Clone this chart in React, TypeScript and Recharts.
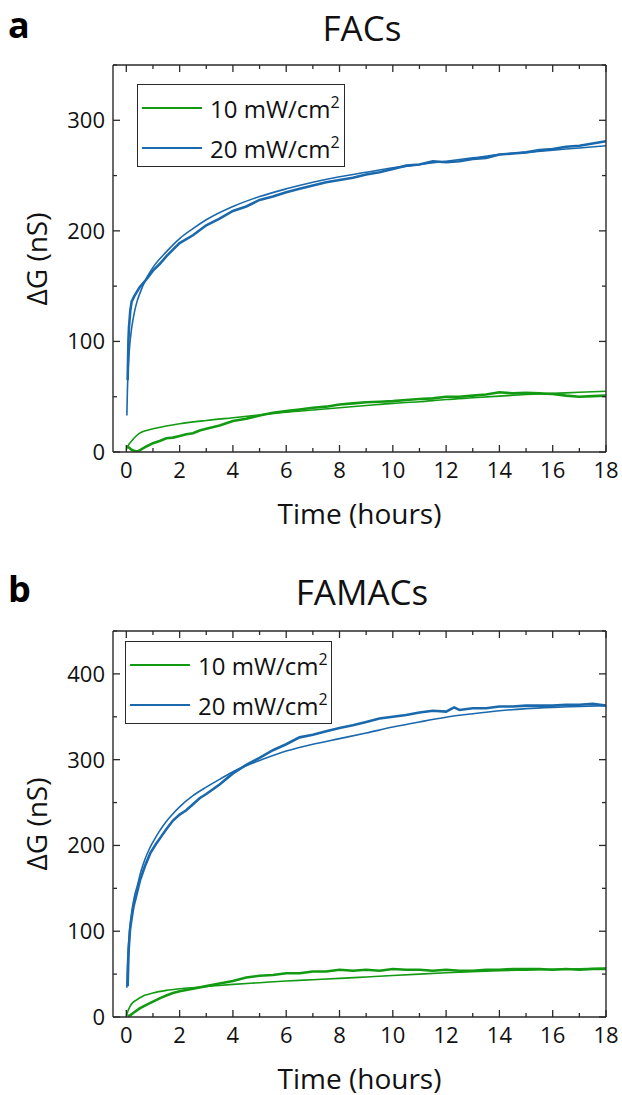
import React from "react";
import { ComposedChart, Line, XAxis, YAxis } from "recharts";

const FONT = "'Open Sans', 'Noto Sans', sans-serif";
const GREEN = "#129a12";
const BLUE = "#1a69ad";
const INK = "#2a2a2a";

const timeTicks = [0, 1, 2, 3, 4, 5, 6, 7, 8, 9, 10, 11, 12, 13, 14, 15, 16, 17, 18];
const facsTicks = [0, 50, 100, 150, 200, 250, 300, 350];
const famacsTicks = [0, 50, 100, 150, 200, 250, 300, 350, 400, 450];
const legendLabels = ["10 mW/cm", "20 mW/cm"];

// [time (h), ΔG (nS)]
const facs10Meas = [
  [0.02, 5], [0.1, 4], [0.2, 2], [0.3, 1], [0.4, 0.5], [0.5, 1.5], [0.75, 5], [1, 8], [1.25, 10],
  [1.5, 12.5], [1.75, 13], [2, 14.5], [2.25, 16], [2.5, 17], [2.75, 19.5], [3, 21], [3.5, 24],
  [4, 28], [4.5, 30], [5, 33], [5.5, 35.5], [6, 37], [6.5, 38.5], [7, 40], [7.5, 41], [8, 43],
  [8.5, 44], [9, 45], [9.5, 45.5], [10, 46], [10.5, 47], [11, 48], [11.5, 48.5], [12, 50],
  [12.5, 50], [13, 51], [13.5, 52], [14, 54], [14.5, 53], [15, 53.5], [15.5, 53], [16, 52.5],
  [16.5, 51], [17, 50], [17.5, 50.5], [18, 51],
];
const facs10Fit = [
  [0, 2], [0.05, 5], [0.1, 7], [0.2, 10], [0.35, 14], [0.5, 17], [0.75, 19.5], [1, 21],
  [1.5, 23.5], [2, 25.5], [3, 28.5], [4, 31], [5, 33.5], [6, 36], [7, 38], [8, 40], [9, 42],
  [10, 44], [11, 45.5], [12, 47.5], [13, 49], [14, 50.5], [15, 52], [16, 53], [17, 54], [18, 55],
];
const facs20Meas = [
  [0.05, 65], [0.08, 102], [0.1, 113], [0.15, 128], [0.2, 136], [0.3, 141], [0.4, 145],
  [0.5, 149], [0.75, 156], [1, 164], [1.25, 170], [1.5, 177], [1.75, 183], [2, 189], [2.5, 196],
  [3, 205], [3.5, 211], [4, 218], [4.5, 222], [5, 228], [5.5, 231], [6, 235], [6.5, 238],
  [7, 241], [7.5, 244], [8, 246], [8.5, 248], [9, 251], [9.5, 253], [10, 256], [10.5, 259],
  [11, 260], [11.5, 263], [12, 262], [12.5, 263], [13, 265], [13.5, 266], [14, 269],
  [14.5, 270], [15, 271], [15.5, 273], [16, 274], [16.5, 276], [17, 277], [17.5, 279], [18, 281],
];
const facs20Fit = [
  [0.02, 33], [0.04, 55], [0.07, 75], [0.1, 88], [0.15, 102], [0.2, 112], [0.3, 126],
  [0.4, 136], [0.5, 143], [0.75, 157], [1, 167], [1.5, 181], [2, 193], [2.5, 202], [3, 210],
  [4, 222], [5, 231], [6, 238], [7, 244], [8, 249], [9, 253], [10, 257], [11, 260], [12, 263],
  [13, 266], [14, 269], [15, 271], [16, 273], [17, 275], [18, 277],
];

const famacs10Meas = [
  [0.05, 1], [0.15, 2], [0.27, 5], [0.5, 10], [0.77, 14.5], [1, 18], [1.27, 22], [1.5, 25],
  [1.75, 28], [2, 30], [2.5, 33], [3, 36], [3.5, 39], [4, 42], [4.5, 46], [5, 48], [5.5, 49],
  [6, 51], [6.5, 51], [7, 53], [7.5, 53], [8, 55], [8.5, 54], [9, 55], [9.5, 54], [10, 56],
  [10.5, 55], [11, 55], [11.5, 54], [12, 55], [12.5, 54], [13, 54], [13.5, 55], [14, 55],
  [14.5, 56], [15, 56], [15.5, 56], [16, 55], [16.5, 56], [17, 55], [17.5, 56], [18, 56],
];
const famacs10Fit = [
  [0, 0], [0.05, 6], [0.14, 12.5], [0.25, 17], [0.39, 20], [0.6, 24], [0.77, 26], [1, 28],
  [1.5, 31], [2, 33], [3, 35.5], [4, 38], [5, 40], [6, 42], [7, 43.5], [8, 45], [9, 46.7],
  [10, 48.4], [11, 50], [12, 51.5], [13, 52.8], [14, 54], [15, 54.7], [16, 55.5], [17, 56.2],
  [18, 57],
];
const famacs20Meas = [
  [0.05, 36], [0.07, 60], [0.09, 79], [0.14, 102], [0.2, 115], [0.27, 129], [0.4, 145],
  [0.52, 160], [0.7, 176], [0.9, 191], [1.1, 201], [1.3, 210], [1.5, 219], [1.75, 229],
  [2, 236], [2.25, 241], [2.5, 248], [2.75, 255], [3, 260], [3.5, 271], [4, 284], [4.5, 294],
  [5, 302], [5.5, 311], [6, 318], [6.5, 326], [7, 329], [7.5, 333], [8, 337], [8.5, 340],
  [9, 344], [9.5, 348], [10, 350], [10.5, 352], [11, 355], [11.5, 357], [12, 356], [12.3, 361],
  [12.5, 358], [13, 360], [13.5, 360], [14, 362], [14.5, 362], [15, 363], [15.5, 363],
  [16, 363], [16.5, 364], [17, 364], [17.5, 365], [18, 363],
];
const famacs20Fit = [
  [0.02, 34], [0.04, 58], [0.07, 78], [0.1, 92], [0.15, 110], [0.2, 122], [0.3, 140],
  [0.42, 154], [0.55, 170], [0.7, 184], [0.85, 195], [1, 204], [1.25, 217], [1.5, 228],
  [1.75, 237], [2, 245], [2.5, 258], [3, 268], [3.5, 277], [4, 286], [4.5, 293], [5, 299],
  [6, 310], [7, 318], [8, 324.5], [9, 331], [10, 338], [11, 344], [12, 349.5], [13, 353.5],
  [14, 357], [15, 359.5], [16, 361], [17, 362], [18, 363],
];

const toRows = (pts: number[][]) => pts.map(([t, g]) => ({ t, g }));

function BottomTick({ x, y, payload }: any) {
  const major = payload.value % 2 === 0;
  return (
    <g>
      <line x1={x} x2={x} y1={y} y2={y - (major ? 7 : 4)} stroke={INK} strokeWidth={1.3} />
      {major && (
        <text x={x} y={y + 26} textAnchor="middle" fontSize={22} fill="#111" fontFamily={FONT}>
          {payload.value}
        </text>
      )}
    </g>
  );
}

function TopTick({ x, y, payload }: any) {
  const major = payload.value % 2 === 0;
  return <line x1={x} x2={x} y1={y} y2={y + (major ? 7 : 4)} stroke={INK} strokeWidth={1.3} />;
}

function LeftTick({ x, y, payload }: any) {
  const major = payload.value % 100 === 0;
  return (
    <g>
      <line x1={x} x2={x + (major ? 7 : 4)} y1={y} y2={y} stroke={INK} strokeWidth={1.3} />
      {major && (
        <text x={x - 8} y={y + 8} textAnchor="end" fontSize={22} fill="#111" fontFamily={FONT}>
          {payload.value}
        </text>
      )}
    </g>
  );
}

function RightTick({ x, y, payload }: any) {
  const major = payload.value % 100 === 0;
  return <line x1={x} x2={x - (major ? 7 : 4)} y1={y} y2={y} stroke={INK} strokeWidth={1.3} />;
}

function Legend({ left, top, width }: { left: number; top: number; width: number }) {
  return (
    <div
      style={{
        position: "absolute",
        left,
        top,
        width,
        height: 83,
        border: `1.3px solid ${INK}`,
        boxSizing: "border-box",
        background: "#fff",
        fontFamily: FONT,
        fontSize: 24,
        color: "#111",
      }}
    >
      {legendLabels.map((lab, i) => (
        <div key={lab} style={{ position: "absolute", left: 4, top: 7 + i * 40, height: 32, display: "flex", alignItems: "center", whiteSpace: "nowrap" }}>
          <span style={{ display: "inline-block", width: 60, height: 2.2, background: i === 0 ? GREEN : BLUE, marginRight: 8 }} />
          <span>
            {lab}
            <sup style={{ fontSize: 16, verticalAlign: "10px", lineHeight: 0 }}>2</sup>
          </span>
        </div>
      ))}
    </div>
  );
}

interface PanelProps {
  top: number;
  letter: string;
  title: string;
  yMax: number;
  yTicks: number[];
  plotTop: number;
  plotBottom: number;
  height: number;
  meas10: number[][];
  fit10: number[][];
  meas20: number[][];
  fit20: number[][];
  legend: { left: number; top: number; width: number };
}

function Panel(p: PanelProps) {
  const axisLine = { stroke: INK, strokeWidth: 1.4 };
  return (
    <div style={{ position: "absolute", left: 0, top: p.top, width: 622, height: p.height }}>
      <div style={{ position: "absolute", left: 0, top: 0 }}>
        <ComposedChart
          width={622}
          height={p.height}
          margin={{ top: p.plotTop - 1, right: 15, bottom: p.height - p.plotBottom - 30, left: 112 }}
        >
          <XAxis
            dataKey="t"
            type="number"
            domain={[-0.5, 18]}
            ticks={timeTicks}
            interval={0}
            height={30}
            tickSize={0}
            tickMargin={0}
            axisLine={axisLine}
            tick={<BottomTick />}
            allowDataOverflow
          />
          <XAxis
            xAxisId="top"
            orientation="top"
            dataKey="t"
            type="number"
            domain={[-0.5, 18]}
            ticks={timeTicks}
            interval={0}
            height={1}
            tickSize={0}
            tickMargin={0}
            axisLine={axisLine}
            tick={<TopTick />}
            allowDataOverflow
          />
          <YAxis
            type="number"
            domain={[0, p.yMax]}
            ticks={p.yTicks}
            interval={0}
            width={1}
            tickSize={0}
            tickMargin={0}
            axisLine={axisLine}
            tick={<LeftTick />}
            allowDataOverflow
          />
          <YAxis
            yAxisId="right"
            orientation="right"
            type="number"
            domain={[0, p.yMax]}
            ticks={p.yTicks}
            interval={0}
            width={1}
            tickSize={0}
            tickMargin={0}
            axisLine={axisLine}
            tick={<RightTick />}
            allowDataOverflow
          />
          <Line data={toRows(p.meas10)} dataKey="g" type="linear" stroke={GREEN} strokeWidth={2.6} dot={false} isAnimationActive={false} />
          <Line data={toRows(p.fit10)} dataKey="g" type="monotone" stroke={GREEN} strokeWidth={1.6} dot={false} isAnimationActive={false} />
          <Line data={toRows(p.meas20)} dataKey="g" type="linear" stroke={BLUE} strokeWidth={2.6} dot={false} isAnimationActive={false} />
          <Line data={toRows(p.fit20)} dataKey="g" type="monotone" stroke={BLUE} strokeWidth={1.6} dot={false} isAnimationActive={false} />
        </ComposedChart>
      </div>
      <div style={{ position: "absolute", left: 8, top: 0, fontFamily: FONT, fontWeight: 700, fontSize: 36, color: "#000" }}>
        {p.letter}
      </div>
      <div style={{ position: "absolute", left: 112, width: 500, top: 4, textAlign: "center", fontFamily: FONT, fontSize: 35, color: "#111" }}>
        {p.title}
      </div>
      <div
        style={{
          position: "absolute",
          left: 36,
          top: (p.plotTop + p.plotBottom) / 2,
          transform: "translate(-50%, -50%) rotate(-90deg)",
          whiteSpace: "nowrap",
          fontFamily: FONT,
          fontSize: 28,
          color: "#111",
        }}
      >
        ΔG (nS)
      </div>
      <div style={{ position: "absolute", left: 113, width: 493, top: p.plotBottom + 42, textAlign: "center", fontFamily: FONT, fontSize: 28, color: "#111" }}>
        Time (hours)
      </div>
      <Legend {...p.legend} />
    </div>
  );
}

export default function App() {
  return (
    <div style={{ position: "absolute", left: 0, top: 0, width: 622, height: 1095, background: "#fff" }}>
      <Panel
        top={0}
        letter="a"
        title="FACs"
        yMax={350}
        yTicks={facsTicks}
        plotTop={65}
        plotBottom={452}
        height={550}
        meas10={facs10Meas}
        fit10={facs10Fit}
        meas20={facs20Meas}
        fit20={facs20Fit}
        legend={{ left: 137, top: 84, width: 208 }}
      />
      <Panel
        top={564}
        letter="b"
        title="FAMACs"
        yMax={450}
        yTicks={famacsTicks}
        plotTop={67}
        plotBottom={453}
        height={531}
        meas10={famacs10Meas}
        fit10={famacs10Fit}
        meas20={famacs20Meas}
        fit20={famacs20Fit}
        legend={{ left: 125, top: 77, width: 207 }}
      />
    </div>
  );
}
